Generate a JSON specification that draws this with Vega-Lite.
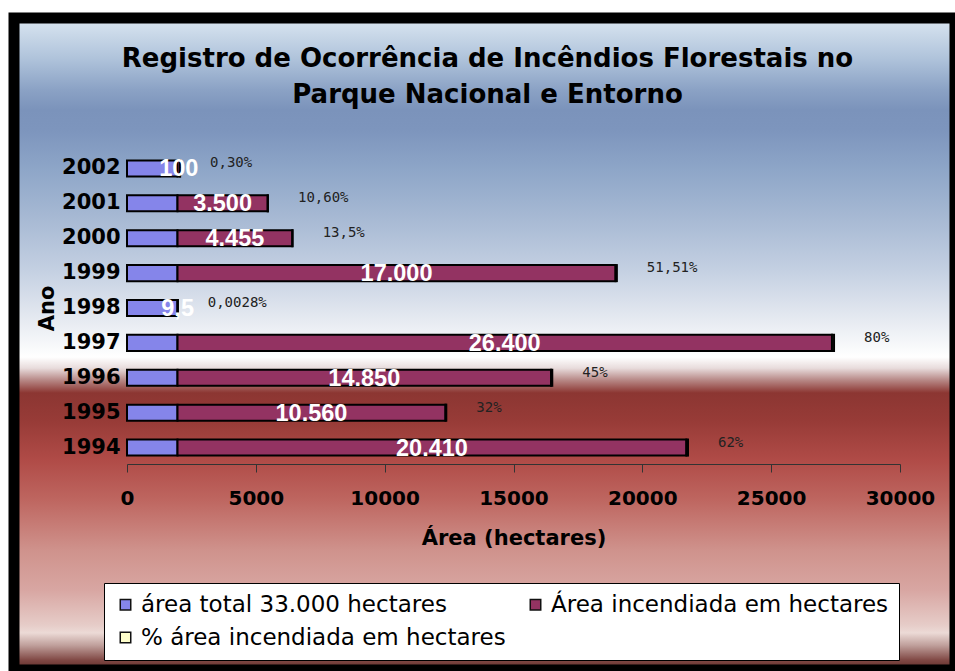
{
  "$schema": "https://vega.github.io/schema/vega-lite/v6.json",
  "autosize": {"type": "none"},
  "padding": {"left": 14, "top": 18, "right": 0, "bottom": 1},
  "width": 941,
  "height": 652,
  "background": "white",
  "view": {
    "stroke": "black",
    "strokeWidth": 11,
    "fill": {
      "gradient": "linear",
      "x1": 0, "y1": 0, "x2": 0, "y2": 1,
      "stops": [
        {"offset": 0, "color": "#d6e3ef"},
        {"offset": 0.009, "color": "#d4e1ee"},
        {"offset": 0.064, "color": "#aec2da"},
        {"offset": 0.11, "color": "#8ba2c5"},
        {"offset": 0.141, "color": "#7b93bb"},
        {"offset": 0.172, "color": "#7d95bd"},
        {"offset": 0.233, "color": "#8ea6c8"},
        {"offset": 0.31, "color": "#a8bad4"},
        {"offset": 0.387, "color": "#c4d0e2"},
        {"offset": 0.463, "color": "#e6eaf1"},
        {"offset": 0.509, "color": "#fafbfc"},
        {"offset": 0.52, "color": "#ffffff"},
        {"offset": 0.537, "color": "#e8dcdc"},
        {"offset": 0.555, "color": "#b88a88"},
        {"offset": 0.575, "color": "#8c3632"},
        {"offset": 0.617, "color": "#973b37"},
        {"offset": 0.678, "color": "#b04b47"},
        {"offset": 0.739, "color": "#be6660"},
        {"offset": 0.816, "color": "#cf928c"},
        {"offset": 0.877, "color": "#d8a6a2"},
        {"offset": 0.931, "color": "#e6ccc8"},
        {"offset": 0.943, "color": "#ecdad6"},
        {"offset": 0.962, "color": "#c0a09c"},
        {"offset": 0.985, "color": "#804844"},
        {"offset": 1, "color": "#5a2a26"}
      ]
    }
  },
  "title": {
    "text": ["Registro de Ocorrência de Incêndios Florestais no", "Parque Nacional e Entorno"],
    "font": "DejaVu Sans",
    "fontSize": 26,
    "fontWeight": "bold",
    "color": "black",
    "anchor": "middle",
    "frame": "group",
    "baseline": "alphabetic",
    "lineHeight": 36,
    "offset": -111,
    "dx": 3
  },
  "data": {
    "values": [
      {"ano": "2002", "serie": "área total  33.000 hectares", "valor": 1960, "rotulo": "", "pct": ""},
      {"ano": "2002", "serie": "Área incendiada em hectares", "valor": 100, "rotulo": "100", "pct": ""},
      {"ano": "2002", "serie": "% área incendiada em hectares", "valor": 0.3, "rotulo": "", "pct": "0,30%"},
      {"ano": "2001", "serie": "área total  33.000 hectares", "valor": 1960, "rotulo": "", "pct": ""},
      {"ano": "2001", "serie": "Área incendiada em hectares", "valor": 3500, "rotulo": "3.500", "pct": ""},
      {"ano": "2001", "serie": "% área incendiada em hectares", "valor": 10.6, "rotulo": "", "pct": "10,60%"},
      {"ano": "2000", "serie": "área total  33.000 hectares", "valor": 1960, "rotulo": "", "pct": ""},
      {"ano": "2000", "serie": "Área incendiada em hectares", "valor": 4455, "rotulo": "4.455", "pct": ""},
      {"ano": "2000", "serie": "% área incendiada em hectares", "valor": 13.5, "rotulo": "", "pct": "13,5%"},
      {"ano": "1999", "serie": "área total  33.000 hectares", "valor": 1960, "rotulo": "", "pct": ""},
      {"ano": "1999", "serie": "Área incendiada em hectares", "valor": 17000, "rotulo": "17.000", "pct": ""},
      {"ano": "1999", "serie": "% área incendiada em hectares", "valor": 51.51, "rotulo": "", "pct": "51,51%"},
      {"ano": "1998", "serie": "área total  33.000 hectares", "valor": 1960, "rotulo": "", "pct": ""},
      {"ano": "1998", "serie": "Área incendiada em hectares", "valor": 9.5, "rotulo": "9,5", "pct": ""},
      {"ano": "1998", "serie": "% área incendiada em hectares", "valor": 0.0028, "rotulo": "", "pct": "0,0028%"},
      {"ano": "1997", "serie": "área total  33.000 hectares", "valor": 1960, "rotulo": "", "pct": ""},
      {"ano": "1997", "serie": "Área incendiada em hectares", "valor": 25400, "rotulo": "26.400", "pct": ""},
      {"ano": "1997", "serie": "% área incendiada em hectares", "valor": 80, "rotulo": "", "pct": "80%"},
      {"ano": "1996", "serie": "área total  33.000 hectares", "valor": 1960, "rotulo": "", "pct": ""},
      {"ano": "1996", "serie": "Área incendiada em hectares", "valor": 14500, "rotulo": "14.850", "pct": ""},
      {"ano": "1996", "serie": "% área incendiada em hectares", "valor": 45, "rotulo": "", "pct": "45%"},
      {"ano": "1995", "serie": "área total  33.000 hectares", "valor": 1960, "rotulo": "", "pct": ""},
      {"ano": "1995", "serie": "Área incendiada em hectares", "valor": 10400, "rotulo": "10.560", "pct": ""},
      {"ano": "1995", "serie": "% área incendiada em hectares", "valor": 32, "rotulo": "", "pct": "32%"},
      {"ano": "1994", "serie": "área total  33.000 hectares", "valor": 1960, "rotulo": "", "pct": ""},
      {"ano": "1994", "serie": "Área incendiada em hectares", "valor": 19750, "rotulo": "20.410", "pct": ""},
      {"ano": "1994", "serie": "% área incendiada em hectares", "valor": 62, "rotulo": "", "pct": "62%"}
    ]
  },
  "encoding": {
    "y": {
      "field": "ano",
      "type": "nominal",
      "sort": "descending",
      "scale": {"range": [133, 447], "paddingInner": 0.54, "paddingOuter": 0.27},
      "axis": {
        "title": "Ano",
        "offset": -113,
        "domain": false,
        "ticks": false,
        "labelFont": "DejaVu Sans",
        "labelFontSize": 21,
        "labelFontWeight": "bold",
        "labelColor": "black",
        "labelPadding": 7,
        "titleFont": "DejaVu Sans",
        "titleFontSize": 21,
        "titleFontWeight": "bold",
        "titleColor": "black",
        "titlePadding": 4
      }
    },
    "x": {
      "field": "valor",
      "type": "quantitative",
      "stack": "zero",
      "scale": {"domain": [0, 30000], "range": [113, 886], "nice": false},
      "axis": {
        "title": "Área (hectares)",
        "offset": -206,
        "values": [0, 5000, 10000, 15000, 20000, 25000, 30000],
        "format": "d",
        "grid": false,
        "domainColor": "#333333",
        "tickColor": "#333333",
        "tickSize": 8,
        "labelFont": "DejaVu Sans",
        "labelFontSize": 20,
        "labelFontWeight": "bold",
        "labelColor": "black",
        "labelPadding": 16,
        "labelFlush": false,
        "labelOverlap": false,
        "titleFont": "DejaVu Sans",
        "titleFontSize": 21,
        "titleFontWeight": "bold",
        "titleColor": "black",
        "titlePadding": 19
      }
    },
    "order": {"field": "serie", "sort": "descending"}
  },
  "layer": [
    {
      "mark": {"type": "bar", "stroke": "black", "strokeWidth": 2},
      "encoding": {
        "color": {
          "field": "serie",
          "type": "nominal",
          "scale": {
            "domain": ["área total  33.000 hectares", "Área incendiada em hectares", "% área incendiada em hectares"],
            "range": ["#8585ea", "#933362", "#ffffcc"]
          },
          "legend": {
            "orient": "none",
            "legendX": 90,
            "legendY": 565,
            "direction": "horizontal",
            "columns": 2,
            "title": null,
            "fillColor": "white",
            "strokeColor": "black",
            "padding": 10,
            "labelFont": "DejaVu Sans",
            "labelFontSize": 23,
            "labelColor": "black",
            "labelLimit": 500,
            "labelOffset": 4,
            "symbolType": "square",
            "symbolSize": 110,
            "symbolStrokeColor": "#111111",
            "symbolStrokeWidth": 1.5,
            "columnPadding": 18,
            "rowPadding": 9
          }
        }
      }
    },
    {
      "mark": {"type": "text", "color": "white", "font": "Liberation Sans", "fontSize": 23.5, "fontWeight": "bold", "align": "center", "baseline": "middle", "dy": 1},
      "encoding": {
        "x": {"field": "valor", "type": "quantitative", "stack": "zero", "bandPosition": 0.5},
        "text": {"field": "rotulo"}
      }
    },
    {
      "mark": {"type": "text", "color": "#222222", "font": "DejaVu Sans Mono", "fontSize": 14, "align": "left", "baseline": "middle", "dx": 30, "dy": -5},
      "encoding": {
        "x": {"field": "valor", "type": "quantitative", "stack": "zero"},
        "text": {"field": "pct"}
      }
    }
  ]
}
